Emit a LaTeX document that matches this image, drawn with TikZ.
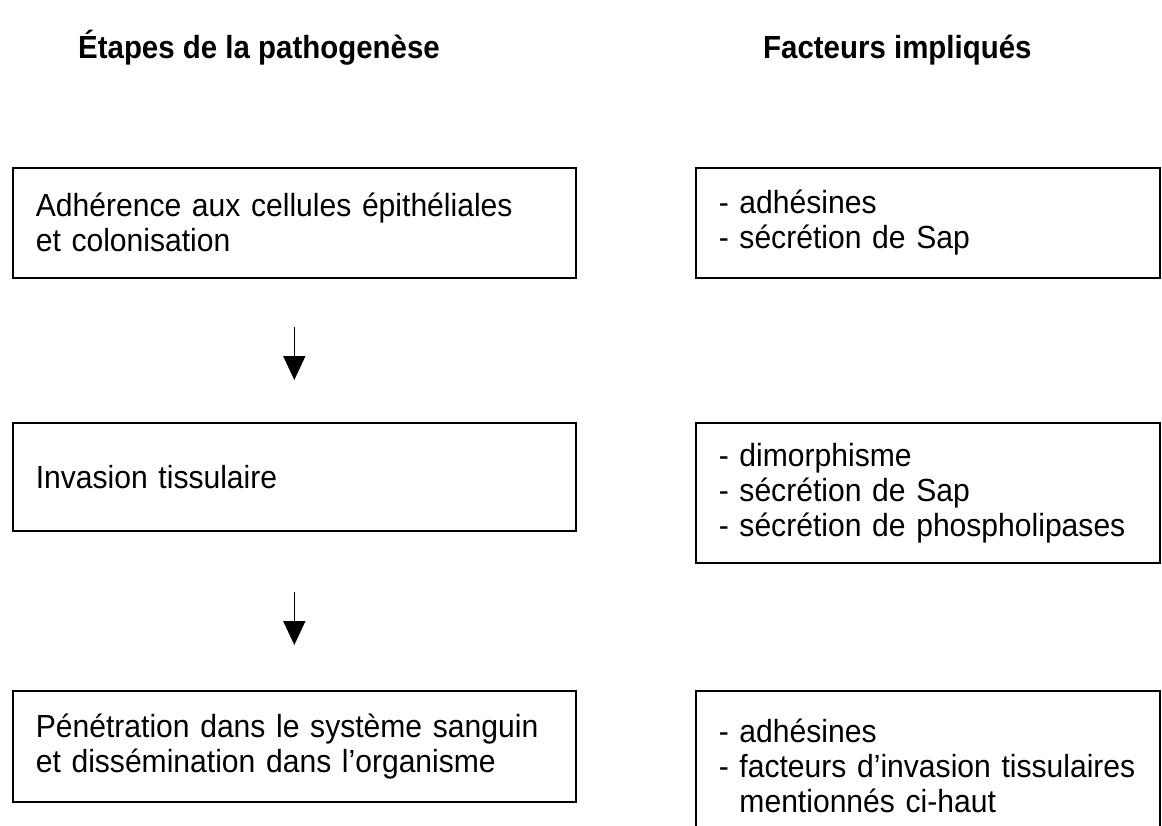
\documentclass[tikz,border=0pt]{standalone}
\usepackage{fontspec}
\setmainfont[FakeStretch=0.94]{Liberation Sans}
\newfontfamily\headfont[FakeStretch=0.92]{Liberation Sans}
\usetikzlibrary{arrows.meta}

\begin{document}
\begin{tikzpicture}[x=1pt,y=-1pt,font=\fontsize{32}{35}\selectfont,
  stage/.style={draw,line width=1.6pt,anchor=north west,inner xsep=23pt,inner ysep=0pt,
    align=left,text width=517pt,minimum height=110pt},
  factor/.style={stage,text width=418pt},
  head/.style={font=\headfont\fontsize{32}{35}\selectfont\bfseries,anchor=base west,inner sep=0pt},
  flow/.style={line width=1.6pt,-{Triangle[length=24pt,width=22pt]}}]
\useasboundingbox (0,0) rectangle (1162,825);
\clip (0,0) rectangle (1162,825);
% column titles
\node[head] (h1) at (78,58) {Étapes de la pathogenèse};
\node[head] (h2) at (763,58) {Facteurs impliqués};
% stages and factors
\node[stage] (s1) at (12,167) {Adhérence aux cellules épithéliales\\et colonisation};
\node[factor] (f1) at (695,167) {- adhésines\\- sécrétion de Sap};
\node[stage,minimum height=108pt] (s2) at (12,422) {Invasion tissulaire};
\node[factor,minimum height=140pt] (f2) at (695,422) {- dimorphisme\\- sécrétion de Sap\\- sécrétion de phospholipases};
\node[stage,minimum height=111pt] (s3) at (12,690) {Pénétration dans le système sanguin\\et dissémination dans l’organisme};
\node[factor,minimum height=150pt] (f3) at (695,690) {- adhésines\\- facteurs d’invasion tissulaires\\\phantom{- }mentionnés ci-haut};
% arrows
\draw[flow] ([yshift=-48pt]s1.south) -- ([yshift=42pt]s2.north);
\draw[flow] ([yshift=-60pt]s2.south) -- ([yshift=45pt]s3.north);
\end{tikzpicture}
\end{document}
